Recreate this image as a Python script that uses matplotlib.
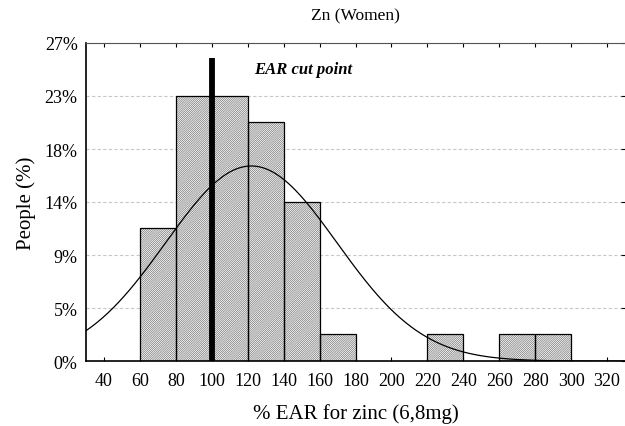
import matplotlib
matplotlib.use('Agg')
import matplotlib.pyplot as plt
import numpy as np

# histogram of %EAR for zinc, women (bin edges and share of people in %)
bin_left = [60, 80, 100, 120, 140, 160, 220, 260, 280]
people_pct = [11.4, 22.7, 22.7, 20.5, 13.6, 2.3, 2.3, 2.3, 2.3]
bin_width = 20

# fitted normal curve
fit_mean = 122.0
fit_sd = 47.7
n_people = 44

ear_cut = 100
ear_line_top = 26.0

x_ticks = [40, 60, 80, 100, 120, 140, 160, 180, 200, 220, 240, 260, 280, 300, 320]
y_ticks = [0, 4.545, 9.09, 13.64, 18.18, 22.73, 27.27]
y_labels = ['0%', '5%', '9%', '14%', '18%', '23%', '27%']

plt.rcParams['font.family'] = ['Liberation Serif', 'DejaVu Serif']
plt.rcParams['hatch.linewidth'] = 0.45

fig = plt.figure(figsize=(6.25, 4.27), dpi=100)
ax = fig.add_axes([0.1376, 0.152, 0.8624, 0.745])

ax.yaxis.grid(True, linestyle=(0, (3, 2)), color='#c8c8c8', linewidth=0.8, zorder=0)

# hatched fill then black outline
ax.bar(bin_left, people_pct, width=bin_width, align='edge', color='white',
       edgecolor='#6a6a6a', hatch='/' * 16, linewidth=0, zorder=2)
ax.bar(bin_left, people_pct, width=bin_width, align='edge', fill=False,
       edgecolor='black', linewidth=0.9, zorder=3)

xs = np.linspace(30, 330, 300)
curve = n_people * bin_width / (fit_sd * np.sqrt(2 * np.pi)) * np.exp(-0.5 * ((xs - fit_mean) / fit_sd) ** 2)
ax.plot(xs, curve / n_people * 100, color='black', linewidth=0.9, zorder=4)

ax.plot([ear_cut, ear_cut], [0, ear_line_top], color='black', linewidth=4.2,
        solid_capstyle='butt', zorder=5)
ax.text(123.5, 25.0, 'EAR cut point', fontsize=12, fontweight='bold',
        fontstyle='italic', va='center', ha='left')

ax.set_xlim(30, 330)
ax.set_ylim(0, 27.27)
ax.set_xticks(x_ticks)
ax.set_yticks(y_ticks)
ax.set_yticklabels(y_labels)
ax.tick_params(axis='both', direction='in', labelsize=13, length=3,
               top=True, right=True)
ax.tick_params(axis='x', pad=8)
ax.tick_params(axis='y', left=False, pad=6)

for side in ['left', 'bottom']:
    ax.spines[side].set_linewidth(1.2)
ax.spines['top'].set_color('#555555')
ax.spines['right'].set_visible(False)

ax.set_title('Zn (Women)', fontsize=12.5, pad=17)
ax.set_xlabel('% EAR for zinc (6,8mg)', fontsize=15, labelpad=10)
ax.set_ylabel('People (%)', fontsize=15, labelpad=6)

fig.savefig('out.png', dpi=100)
